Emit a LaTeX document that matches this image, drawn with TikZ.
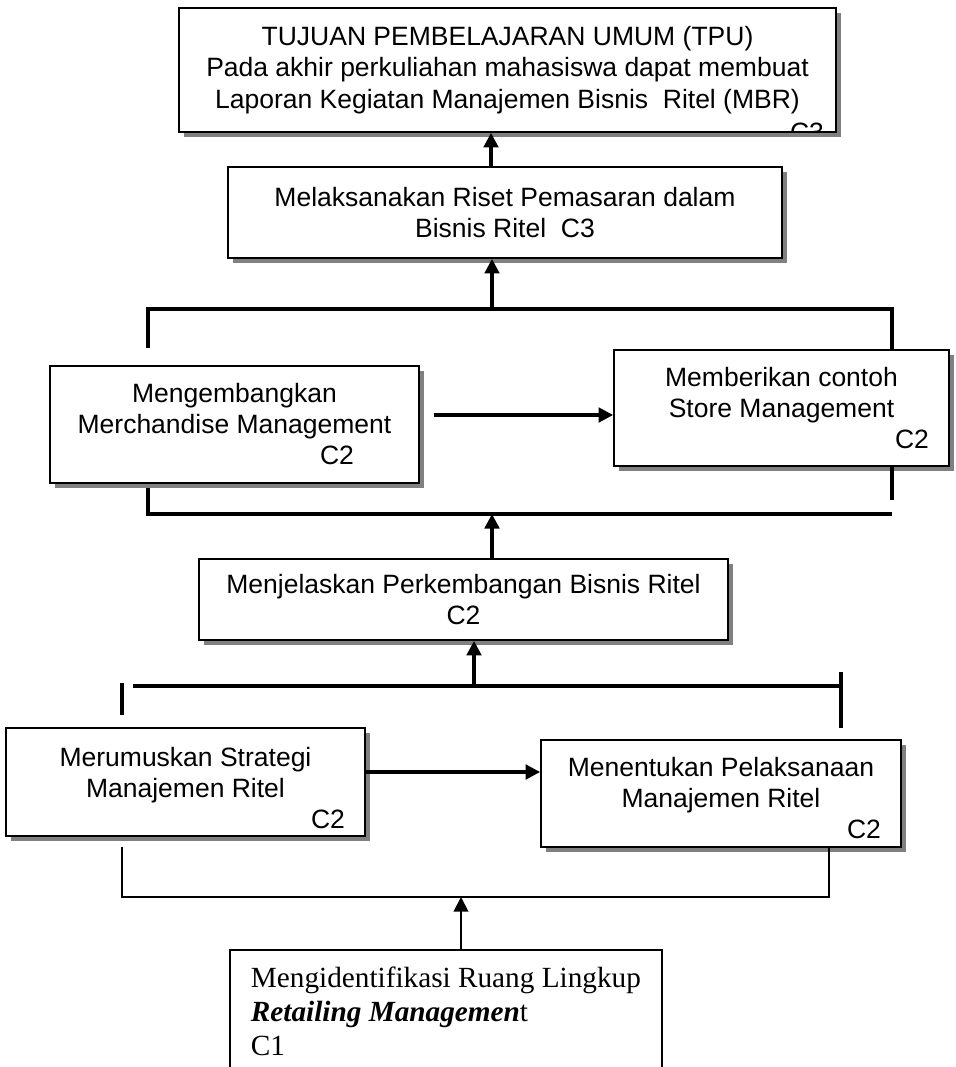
\documentclass[tikz,border=0pt]{standalone}
\usepackage{fontspec}
\setmainfont{Liberation Sans}
\newfontfamily\timesrm{Liberation Serif}
\usetikzlibrary{arrows.meta,shadows}
\begin{document}
\begin{tikzpicture}[x=.4pt, y=-.4pt, line join=miter, >={Triangle[length=5.8pt,width=5.8pt]},
	box/.style={draw, line width=.7pt, fill=white, inner sep=0pt, align=center,
		font=\fontsize{10.6}{12.4}\selectfont,
		drop shadow={shadow xshift=2pt, shadow yshift=-2pt, fill=black!50, opacity=1}},
	bar/.style={line width=1.3pt},
	arr/.style={->, line width=1.3pt},
	thin/.style={line width=.55pt}]
		\useasboundingbox (0,0) rectangle (955,1067);
		% boxes
		\node[box, minimum width=262.8pt, minimum height=49.6pt, font=\fontsize{10.6}{12.6}\selectfont] (tpu) at (507.5,70)
		{TUJUAN PEMBELAJARAN UMUM (TPU)\\Pada akhir perkuliahan mahasiswa dapat membuat\\Laporan Kegiatan Manajemen Bisnis\ \ Ritel (MBR)};
		\node[box, minimum width=221.6pt, minimum height=36.4pt] (riset) at (505,212.5)
		{Melaksanakan Riset Pemasaran dalam\\Bisnis Ritel\ \ C3};
		\node[box, minimum width=147.6pt, minimum height=46.8pt] (merch) at (234.5,424.5)
		{Mengembangkan\\Merchandise Management\\\hspace*{82pt}C2};
		\node[box, minimum width=134pt, minimum height=46.4pt] (store) at (781.5,408)
		{Memberikan contoh\\Store Management\\\hspace*{104.4pt}C2};
		\node[box, minimum width=211.6pt, minimum height=32.4pt] (kembang) at (463.5,599.5)
		{Menjelaskan Perkembangan Bisnis Ritel\\C2};
		\node[box, minimum width=143.6pt, minimum height=43.2pt] (strategi) at (185.5,782)
		{\rule{0pt}{12.5pt}Merumuskan Strategi\\Manajemen Ritel\\\hspace*{114pt}C2};
		\node[box, minimum width=144pt, minimum height=42.8pt] (laksana) at (721,793.5)
		{\rule{0pt}{10.9pt}Menentukan Pelaksanaan\\Manajemen Ritel\\\hspace*{114.4pt}C2};
		\node[draw, line width=.7pt, anchor=north west, minimum width=172.8pt, inner xsep=0pt, inner ysep=7pt,
			align=left, text depth=35pt, font=\timesrm\fontsize{11.7}{13.6}\selectfont] (ruang) at (229,949)
		{Mengidentifikasi Ruang Lingkup\\\textbf{\textit{Retailing Managemen}}t\\C1};
		% level cut off by the box edge
		\begin{scope}
			\clip (tpu.south west) rectangle (tpu.north east);
			\node[anchor=base, font=\fontsize{10.6}{12.4}\selectfont] (ctpu) at (807,141) {C3};
		\end{scope}
		% bracket points
		\coordinate (P1) at (148,309);
		\coordinate (P2) at (892,309);
		\coordinate (P3) at (148,348);
		\coordinate (P4) at (148,488);
		\coordinate (P5) at (148,514);
		\coordinate (P6) at (892,514);
		\coordinate (P7) at (892,500);
		\coordinate (Q1) at (133,686);
		\coordinate (Q2) at (841,686);
		\coordinate (Q3) at (122,683);
		\coordinate (Q4) at (122,715);
		\coordinate (Q5) at (841,672);
		\coordinate (Q6) at (841,728);
		\coordinate (R1) at (122,847);
		\coordinate (R2) at (122,897);
		\coordinate (R3) at (829,897);
		\coordinate (H1) at (434,415);
		\coordinate (H2) at (0,772);
		\coordinate (a1) at (491,0);
		\coordinate (a2) at (492,0);
		\coordinate (a3) at (474,0);
		\coordinate (a4) at (461,0);
		% upper bracket
		\draw[bar] (P3)--(P1)--(P2)--(P2 |- store.north);
		\draw[bar] (store.south -| P7)--(P7) (P4)--(P5)--(P6);
		% lower bracket
		\foreach \a/\b in {Q1/Q2,Q3/Q4,Q5/Q6}
		\draw[bar] (\a)--(\b);
		\draw[thin] (R1)--(R2)--(R3)--(laksana.south -| R3);
		% arrows
		\draw[arr] (riset.north -| a1)--(tpu.south -| a1);
		\draw[arr] (P1 -| a2)--(riset.south -| a2);
		\draw[arr] (kembang.north -| a2)--(P5 -| a2);
		\draw[arr] (Q1 -| a3)--(kembang.south -| a3);
		\draw[arr, line width=.8pt] (ruang.north -| a4)--(R2 -| a4);
		\draw[arr] (H1)--(store.west |- H1);
		\draw[arr] (strategi.east |- H2)--(laksana.west |- H2);
		\end{tikzpicture}
\end{document}
